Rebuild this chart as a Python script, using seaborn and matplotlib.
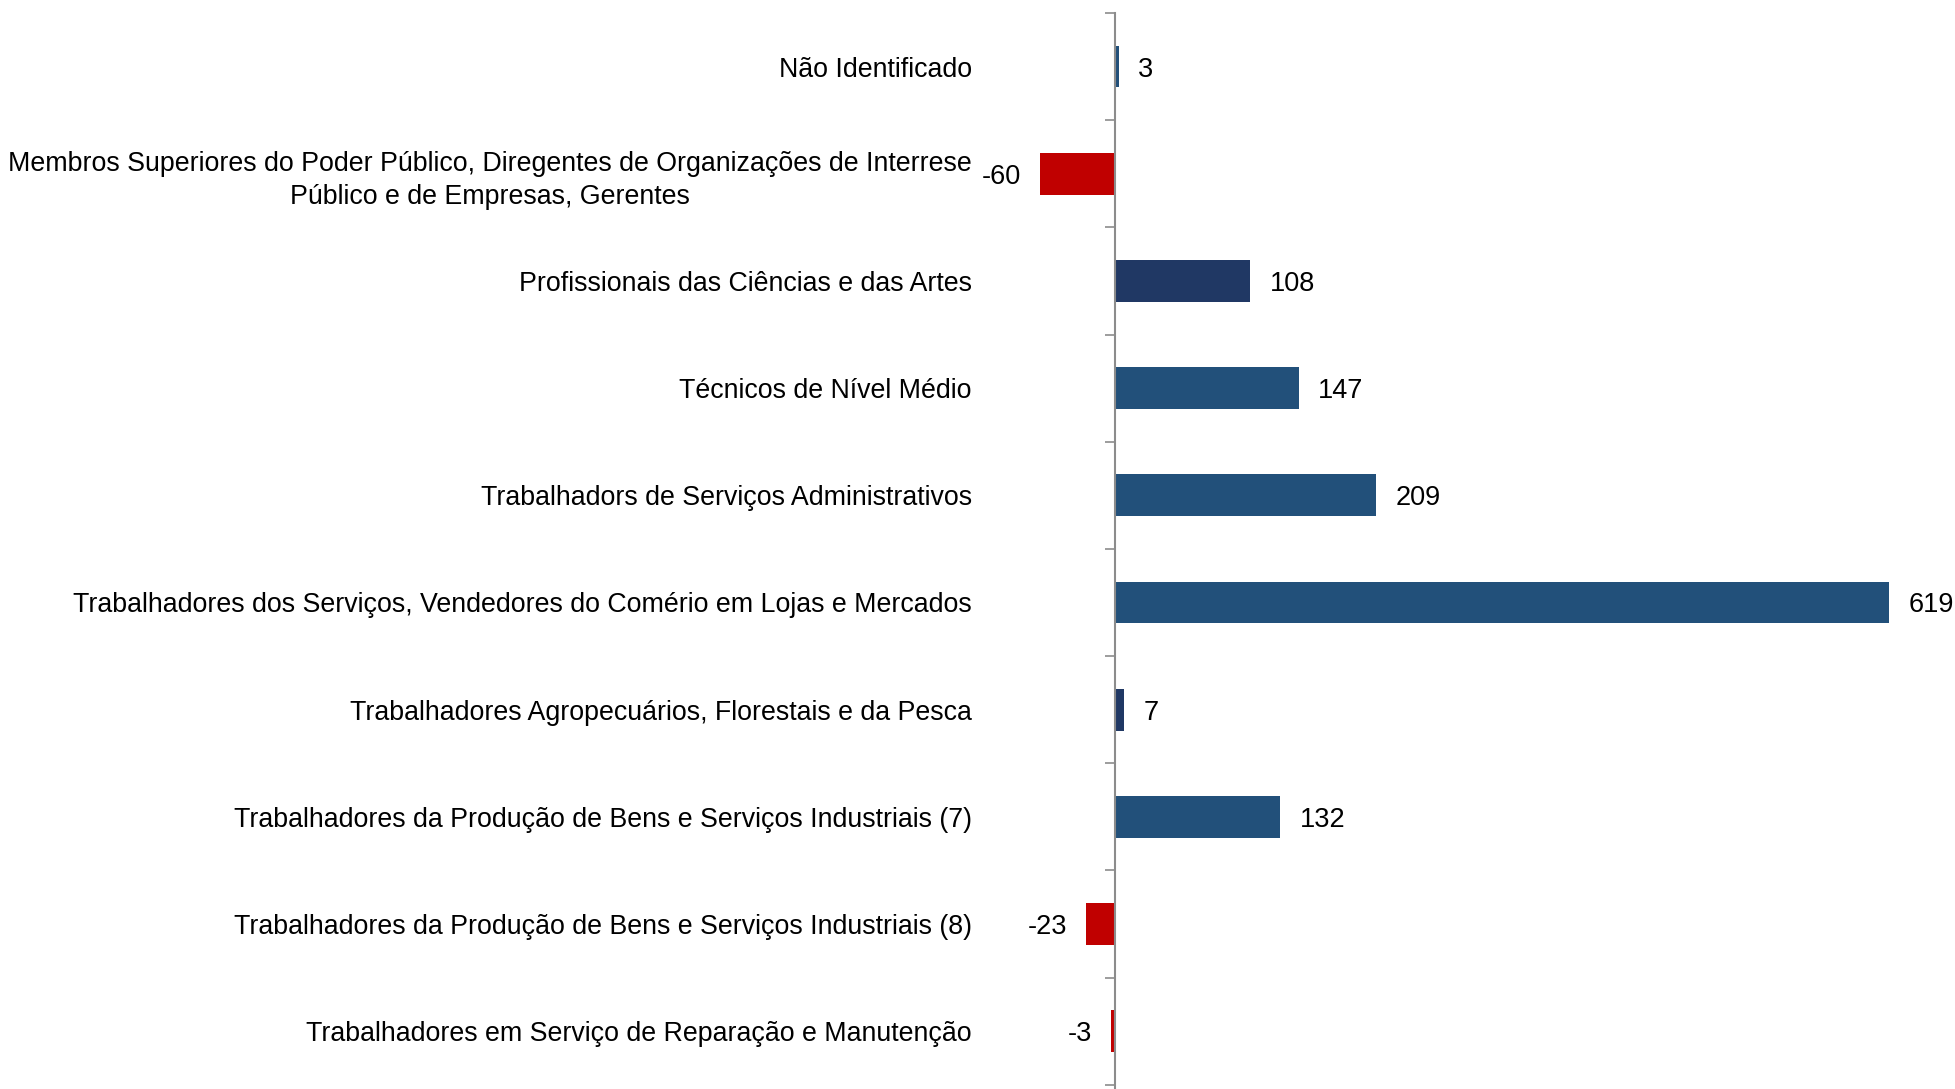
import matplotlib
matplotlib.use("Agg")
import matplotlib.pyplot as plt
import seaborn as sns
import pandas as pd

categories = [
    "Não Identificado",
    "Membros Superiores do Poder Público, Diregentes de Organizações de Interrese\nPúblico e de Empresas, Gerentes",
    "Profissionais das Ciências e das Artes",
    "Técnicos de Nível Médio",
    "Trabalhadors de Serviços Administrativos",
    "Trabalhadores dos Serviços, Vendedores do Comério em Lojas e Mercados",
    "Trabalhadores Agropecuários, Florestais e da Pesca",
    "Trabalhadores da Produção de Bens e Serviços Industriais (7)",
    "Trabalhadores da Produção de Bens e Serviços Industriais (8)",
    "Trabalhadores em Serviço de Reparação e Manutenção",
]
values = [3, -60, 108, 147, 209, 619, 7, 132, -23, -3]
bar_colors = ["#22507A", "#C00000", "#203864", "#22507A", "#22507A",
              "#22507A", "#203864", "#22507A", "#C00000", "#C00000"]

df = pd.DataFrame({"categoria": categories, "valor": values})

sns.set_style("white")
plt.rcParams['font.family'] = ['Liberation Sans', 'DejaVu Sans']
plt.rcParams['text.color'] = 'black'
plt.rcParams['ytick.labelcolor'] = 'black'

fig = plt.figure(figsize=(19.56, 10.89), dpi=100)
ax = fig.add_axes([1000 / 1956, 0.0, 956 / 1956, 1 - 13 / 1089])

sns.barplot(data=df, x="valor", y="categoria", hue="categoria",
            palette=bar_colors, legend=False, width=0.39, orient="h",
            saturation=1, ax=ax, linewidth=0)

for cont in ax.containers:
    labels = ax.bar_label(cont, padding=14, fontsize=19.5, color="black")
    for t in labels:
        t.set_va("center_baseline")

ax.set_xlim(-92, 672.8)
ax.set_ylim(9.54, -0.5)
ax.set_xlabel("")
ax.set_ylabel("")
ax.set_xticks([])

for s in ["top", "right", "bottom"]:
    ax.spines[s].set_visible(False)
ax.spines["left"].set_position(("data", 0))
ax.spines["left"].set_color("#8C8C8C")
ax.spines["left"].set_linewidth(1.5)

ax.set_yticks(range(len(categories)))
ax.set_yticklabels(categories, fontsize=19.3, multialignment="center",
                   color="black", linespacing=1.35)
ax.tick_params(axis="y", which="major", length=0, pad=103)
ax.set_yticks([i - 0.5 for i in range(len(categories) + 1)], minor=True)
ax.tick_params(axis="y", which="minor", length=7, width=1.2, color="#8C8C8C",
               direction="out", left=True)

fig.savefig("out.png", dpi=100)
